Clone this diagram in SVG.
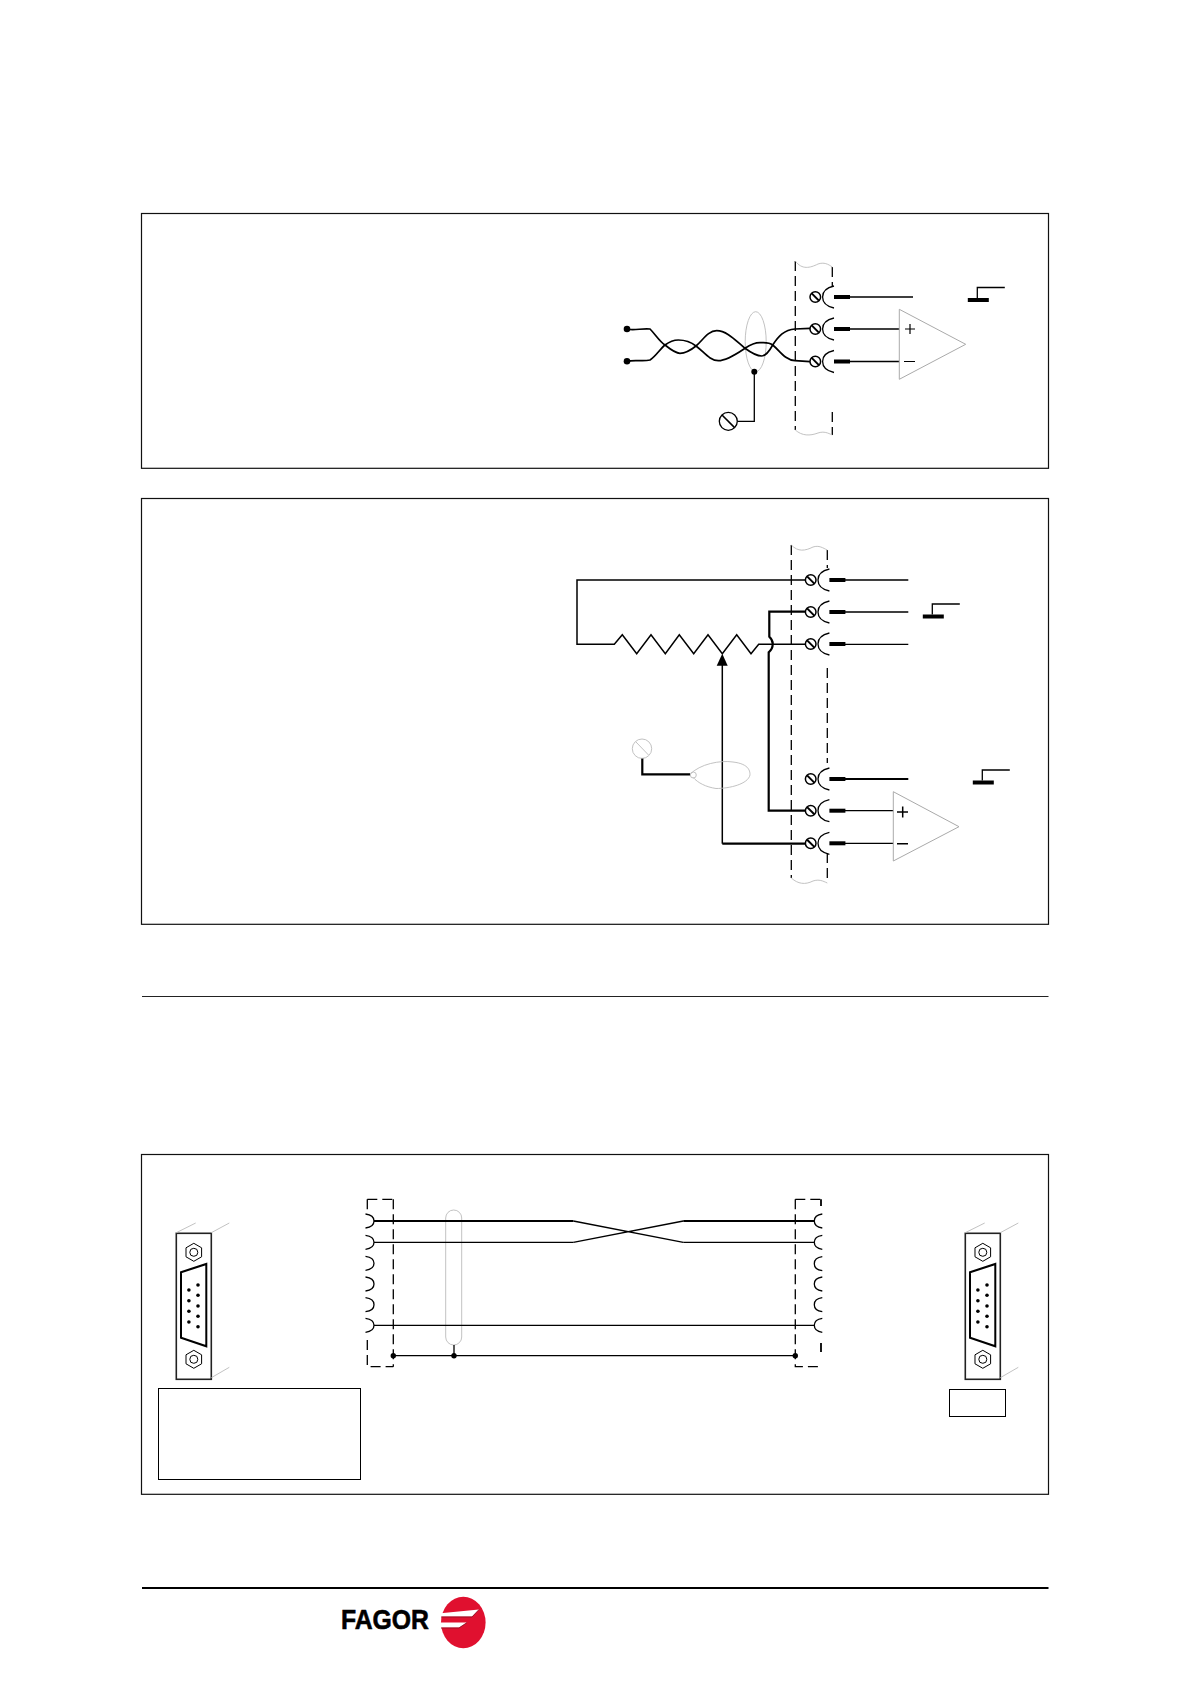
<svg xmlns="http://www.w3.org/2000/svg" xmlns:xlink="http://www.w3.org/1999/xlink" width="1190" height="1684" viewBox="0 0 1190 1684">
<style>
.frame{fill:none;stroke:#111;stroke-width:1.2}
.w{fill:none;stroke:#000;stroke-width:1.3}
.t{fill:none;stroke:#000;stroke-width:2.2}
.g{fill:none;stroke:#bbb;stroke-width:.9}
.d{fill:none;stroke:#000;stroke-width:1.3;stroke-dasharray:10 5}
.bar{fill:#000}
.dot{fill:#000}
</style>
<defs>
<g id="term">
<circle cx="0" cy="0" r="5.3" fill="#fff" stroke="#000" stroke-width="1.5"/>
<path d="M-3.6-3.6L3.6 3.6" stroke="#000" stroke-width="2" fill="none"/>
<path d="M18.7-11Q7.3-8.5 7.3 0Q7.3 8.5 18.7 11" class="w"/>
<rect x="18.7" y="-2" width="16" height="4" class="bar"/>
</g>
<g id="gnd">
<rect x="-9.5" y="0" width="21" height="4" class="bar"/>
<path d="M0 0V-10.5H27.5" class="w"/>
</g>
<g id="nut">
<path d="M0-9L7.8-4.5V4.5L0 9L-7.8 4.5V-4.5Z" fill="#fff" stroke="#000" stroke-width="1"/>
<circle r="4" fill="none" stroke="#000" stroke-width="1"/>
</g>
<g id="dsub">
<rect x="0" y="0" width="35" height="146" fill="#fff" stroke="#222" stroke-width="1.6"/>
<path d="M0-.6L19.4-10.3M35-.6L53-10.3M35 144.4L53 134" class="g"/>
<use xlink:href="#nut" x="17.5" y="19"/>
<use xlink:href="#nut" x="17.5" y="126"/>
<path d="M4.7 39L30 30.7V113L4.7 104.400Z" fill="#fff" stroke="#000" stroke-width="2"/>
<g class="dot">
<circle cx="12.600" cy="56.700" r="1.800"/><circle cx="12.600" cy="67.400" r="1.800"/><circle cx="12.600" cy="78" r="1.800"/><circle cx="12.600" cy="88.700" r="1.800"/>
<circle cx="21.700" cy="51.700" r="1.800"/><circle cx="21.700" cy="62" r="1.800"/><circle cx="21.700" cy="72.700" r="1.800"/><circle cx="21.700" cy="83" r="1.800"/><circle cx="21.700" cy="93.400" r="1.800"/>
</g>
</g>
<path id="cl" d="M-.5-7Q8-6 8 0Q8 6-.5 7" class="w"/>
<path id="cr" d="M8-7Q0-6 0 0Q0 6 8 7" class="w"/>
</defs>

<rect width="1190" height="1684" fill="#fff"/>

<g id="frames">
<rect class="frame" x="141.500" y="213.500" width="907" height="254.800"/>
<rect class="frame" x="141.500" y="498.500" width="907" height="425.800"/>
<rect class="frame" x="141.500" y="1154.500" width="907" height="339.800"/>
<path d="M142 996.500H1048.500" stroke="#222" stroke-width="1.200"/>
<path d="M142 1588H1048.500" stroke="#000" stroke-width="2"/>
</g>

<g id="diagram1">
<g id="d1-connectors">
<path class="d" d="M795.300 261V430"/>
<path class="d" d="M832.300 267V286M832.300 412V435"/>
<path class="g" d="M795.300 261C802 270 810 268 818 264C824 262 828 264 832.300 267M795.300 430C802 436 810 436 818 433C824 431 828 433 832.300 435"/>
<ellipse class="g" cx="755.700" cy="341.700" rx="10.500" ry="30"/>
<path class="t" style="stroke-width:1.700" d="M626.700 329C634 331 642 328 650 329C656 335 659 341 665 345C670 349 675 353.300 680 353.300C686 353.300 691 350 696 346C703 340 708 330.700 716.700 330.700C727 330.700 736 341 745 348.300C750 352 756 356 761.700 356C766 356 770 350 772.700 345C778 337 784 329.500 795 329L810 328.300"/>
<path class="t" style="stroke-width:1.700" d="M626.700 361.700C634 359 642 362 650 360C656 356 660 349 665 345C669 342 673 340 678.300 340C685 340 691 342 696 346C704 352 710 360.700 718.300 360.700C727 360.700 738 353 745 348.300C750 345 755 342.700 760 342.700C765 342.700 769 342 772.700 345C780 351 785 360 795 360.700L810 361.700"/>
<path class="w" d="M754.300 371.700V421.300H737.300"/>
<path class="w" d="M850 297H913M850 329H899.300M850 361.500H899.300"/>
</g>
<circle class="dot" cx="627" cy="329" r="3.300"/><circle class="dot" cx="627" cy="361.300" r="3.300"/><circle class="dot" cx="754.300" cy="371.700" r="3"/>
<g id="d1-earth"><circle cx="728.300" cy="421.300" r="9" fill="#fff" stroke="#000" stroke-width="1.300"/><path d="M722 415L734.600 427.600" stroke="#000" stroke-width="1.600"/></g>
<use id="d1-t1" xlink:href="#term" x="815.300" y="297"/>
<use id="d1-t2" xlink:href="#term" x="815.300" y="329"/>
<use id="d1-t3" xlink:href="#term" x="815.300" y="361.500"/>
<g id="d1-amp"><path d="M899.300 309.300L965.700 344.300L899.300 379.300Z" fill="none" stroke="#aaa" stroke-width="1"/><path d="M905 329H915M910 324V334M904 361.500H915" stroke="#000" stroke-width="1.200" fill="none"/></g>
<use id="d1-gnd" xlink:href="#gnd" x="977.300" y="298"/>
</g>

<g id="diagram2">
<g id="d2-connectors">
<path class="d" d="M791.300 545V878"/>
<path class="d" d="M827.300 550V568M827.300 668V763M827.300 853V883"/>
<path class="g" d="M791.300 545C798 552 805 551 813 547C819 545 823 548 827.300 550M791.300 878C798 884 805 885 813 881C819 879 823 881 827.300 883"/>
<path class="w" style="stroke-width:1.500" d="M805 580H577V644.300H614.300L622.300 634.700L636.700 653.700L651 634.700L665.300 653.700L679.300 634.700L693.700 653.700L708 634.700L722.300 653.700L736.700 634.700L751 653.700L758.700 644.300H805"/>
<path class="t" d="M805 611.700H769.300V636.700Q773 640 772.700 644.300Q772.700 649 768.700 652.300V810.700H805"/>
<path class="w" style="stroke-width:1.500" d="M722.300 665V843.700"/>
<path class="t" d="M722.300 843.700H805"/>
<path class="dot" d="M722.300 653.700L727.700 665.700H716.700Z"/>
<path class="t" d="M642.300 758V774.300H690"/>
<path class="g" d="M690 774.300C700 764 720 760 733 762C750 764 750 772 750 775C748 784 730 788.500 716 788.500C706 787 698 783 693 777.300"/>
<circle class="g" cx="693.300" cy="775" r="3"/>
<path class="w" d="M845 580H908.300M845 612H908.300M845 644.300H908.300"/>
<path class="t" d="M845 779H908.300"/>
<path class="w" d="M845 810.700H893.300M845 843.300H893.300"/>
</g>
<g id="d2-earth"><circle class="g" cx="642" cy="748.700" r="9.700"/><path class="g" d="M636 742L648.500 755"/></g>
<use id="d2-t1" xlink:href="#term" x="810.700" y="580"/>
<use id="d2-t2" xlink:href="#term" x="810.700" y="612"/>
<use id="d2-t3" xlink:href="#term" x="810.700" y="644"/>
<use id="d2-t4" xlink:href="#term" x="810.700" y="779"/>
<use id="d2-t5" xlink:href="#term" x="810.700" y="810.700"/>
<use id="d2-t6" xlink:href="#term" x="810.700" y="843.300"/>
<g id="d2-amp"><path d="M893.300 791.700L959 826.700L893.300 861Z" fill="none" stroke="#aaa" stroke-width="1"/><path d="M897 812H908M902.700 806.500V817.500M897 843.700H908" stroke="#000" stroke-width="1.500" fill="none"/></g>
<use id="d2-gnd1" xlink:href="#gnd" x="932.300" y="614.500"/>
<use id="d2-gnd2" xlink:href="#gnd" x="982.300" y="780.500"/>
</g>

<g id="diagram3">
<g id="d3-connectors">
<path class="d" d="M367.300 1199.300V1212M367.300 1340V1366.700H393.300M367.300 1199.300H393.300"/>
<path class="d" d="M393.300 1199.300V1366.700"/>
<path class="d" d="M795.300 1199.300V1366.700H821M795.300 1199.300H821"/>
<path class="d" style="stroke-width:1.800" d="M821 1199.300V1206M821 1343V1352"/>
<rect class="g" x="445.700" y="1210" width="16" height="135" rx="8"/>
<path class="t" d="M374 1221H573.300"/><path class="t" d="M683.300 1221H814.300"/>
<path class="w" d="M573.300 1221L683.300 1242.300M573.300 1242.300L683.300 1221"/>
<path class="w" d="M374 1242.300H573.300M683.300 1242.300H814.300M374 1325.300H814.300M393.300 1355.700H795.300M454 1345V1355.700"/>
<circle class="dot" cx="393.300" cy="1355.700" r="2.700"/><circle class="dot" cx="454" cy="1355.700" r="2.700"/><circle class="dot" cx="795.300" cy="1355.700" r="2.700"/>
</g>
<g id="d3-left-pins">
<use xlink:href="#cl" x="366" y="1221"/><use xlink:href="#cl" x="366" y="1242.300"/><use xlink:href="#cl" x="366" y="1263.300"/><use xlink:href="#cl" x="366" y="1284"/><use xlink:href="#cl" x="366" y="1304.700"/><use xlink:href="#cl" x="366" y="1325.300"/>
</g>
<g id="d3-right-pins">
<use xlink:href="#cr" x="814.300" y="1221"/><use xlink:href="#cr" x="814.300" y="1242.300"/><use xlink:href="#cr" x="814.300" y="1263.700"/><use xlink:href="#cr" x="814.300" y="1284"/><use xlink:href="#cr" x="814.300" y="1304.700"/><use xlink:href="#cr" x="814.300" y="1325.300"/>
</g>
<use id="d3-conn-left" xlink:href="#dsub" x="176.300" y="1233.300"/>
<use id="d3-conn-right" xlink:href="#dsub" x="965.300" y="1233.300"/>
<rect id="d3-box-left" x="158.500" y="1388.500" width="202" height="91" fill="none" stroke="#000" stroke-width="1"/>
<rect id="d3-box-right" x="949.500" y="1389.500" width="56" height="27" fill="none" stroke="#000" stroke-width="1"/>
</g>

<g id="logo">
<text x="341" y="1629" font-family="'Liberation Sans',Arial,sans-serif" font-weight="700" font-size="28" textLength="88" lengthAdjust="spacingAndGlyphs" fill="#000" stroke="#000" stroke-width=".6">FAGOR</text>
<ellipse cx="463.300" cy="1622.500" rx="22.300" ry="25.700" fill="#e0102f"/>
<path d="M438 1613.500L479 1609.500L472 1616.500H438ZM438 1622.500H467L459 1627.500H438Z" fill="#fff"/>
<path d="M441 1617H472L479 1609.500M441 1628H459L467 1622.500" fill="none" stroke="#7a1020" stroke-width=".7"/>
</g>
</svg>
